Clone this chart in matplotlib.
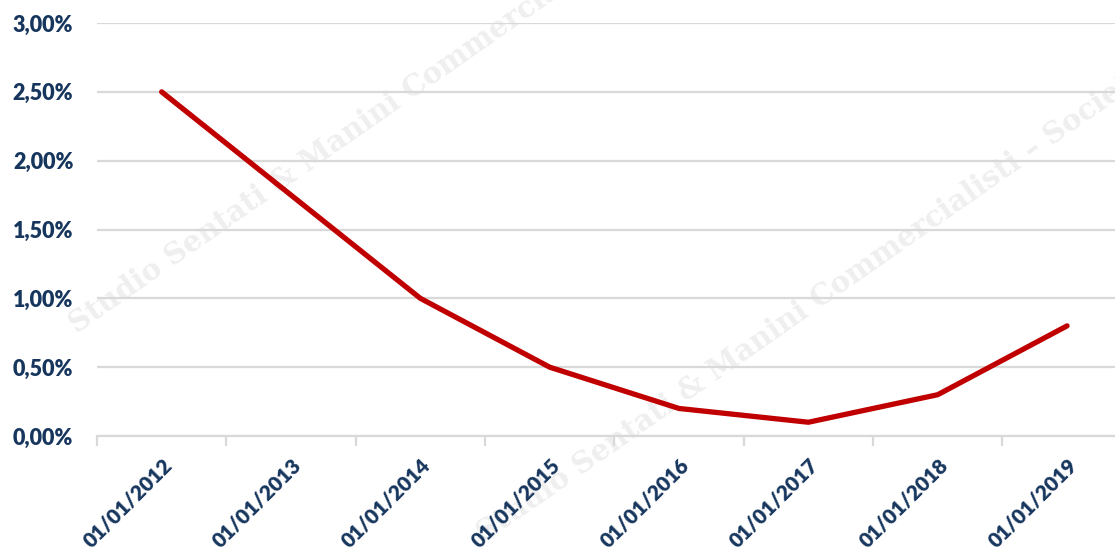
import numpy as np
import matplotlib.pyplot as plt
from matplotlib.ticker import FixedLocator, FuncFormatter

dates = ["01/01/2012", "01/01/2013", "01/01/2014", "01/01/2015",
         "01/01/2016", "01/01/2017", "01/01/2018", "01/01/2019"]
rate = [2.50, 1.75, 1.00, 0.50, 0.20, 0.10, 0.30, 0.80]  # %
y_ticks = [0.0, 0.5, 1.0, 1.5, 2.0, 2.5, 3.0]

navy = "#17365D"
grid_grey = "#D9D9D9"

fig = plt.figure(figsize=(11.15, 5.51), dpi=100)
ax = fig.add_axes([0.087, 0.2087, 0.928, 0.7495])

x = np.arange(len(dates))
ax.plot(x, rate, color="#C00000", lw=3.8, solid_capstyle="round",
        solid_joinstyle="round", zorder=3)

ax.set_xlim(-0.5, len(dates) - 0.5)
ax.set_ylim(0, 3.0)
ax.set_yticks(y_ticks)
ax.yaxis.set_major_formatter(FuncFormatter(lambda v, _: f"{v:.2f}%".replace(".", ",")))
ax.yaxis.grid(True, color=grid_grey, lw=1.6)
ax.set_axisbelow(True)
ax.tick_params(axis="y", length=0, pad=17, labelcolor=navy, labelsize=15.5)

# category labels under the points, tick marks between categories
ax.set_xticks(x)
ax.set_xticklabels(dates, rotation=45, ha="right", va="top",
                   rotation_mode="anchor", color=navy, fontsize=15)
ax.xaxis.set_minor_locator(FixedLocator(np.arange(-0.5, len(dates), 1.0)))
ax.tick_params(axis="x", which="major", length=0, pad=14)
ax.tick_params(axis="x", which="minor", length=7, width=1.6, color=grid_grey)

for s in ["top", "right", "left"]:
    ax.spines[s].set_visible(False)
ax.spines["bottom"].set_color(grid_grey)
ax.spines["bottom"].set_linewidth(1.6)

for lab in ax.get_xticklabels() + ax.get_yticklabels():
    lab.set_fontfamily("Lato")
    lab.set_fontweight("heavy")

# watermark, kept under the grid, line and labels
mark = "Studio Sentati & Manini Commercialisti – Società tra Professionisti"
for xp, yp in [(0.072, 0.385), (0.438, 0.005)]:
    ax.text(xp, yp, mark, transform=fig.transFigure, rotation=35,
            rotation_mode="anchor", ha="left", va="bottom", fontsize=21,
            family="DejaVu Serif", fontweight="bold", color="#EFEFEF",
            clip_on=False, zorder=0.4)

fig.savefig("out.png", dpi=100)
